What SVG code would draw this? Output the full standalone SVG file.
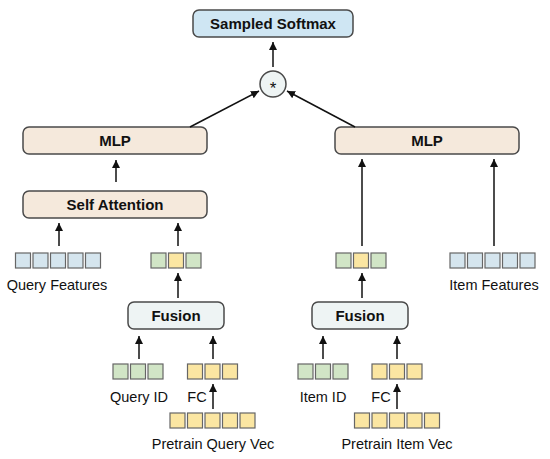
<svg xmlns="http://www.w3.org/2000/svg" width="550" height="459" viewBox="0 0 550 459">
<style>
.box{stroke:#4a4a4a;stroke-width:1.5}
.sm{fill:#cfe6f3}
.mlp{fill:#f5e9dc}
.fus{fill:#eef4f4}
.t{font-family:"Liberation Sans",Arial,sans-serif;font-weight:bold;font-size:15px;fill:#111;text-anchor:middle}
.l{font-family:"Liberation Sans",Arial,sans-serif;font-size:14.5px;fill:#111;text-anchor:middle}
.sq{stroke:#666;stroke-width:1.2}
.b{fill:#d5e5ee}
.g{fill:#d1e5c6}
.y{fill:#fbe6a2}
.c line{stroke:#111;stroke-width:1.5;marker-end:url(#ah)}
</style>
<defs>
<marker id="ah" markerUnits="userSpaceOnUse" markerWidth="8" markerHeight="8" refX="8" refY="4" orient="auto">
<path d="M0,0 L8,4 L0,8 z" fill="#111"/>
</marker>
<g id="sq5b">
<rect class="sq b" x="0" y="0" width="15" height="15"/>
<rect class="sq b" x="17.5" y="0" width="15" height="15"/>
<rect class="sq b" x="35" y="0" width="15" height="15"/>
<rect class="sq b" x="52.5" y="0" width="15" height="15"/>
<rect class="sq b" x="70" y="0" width="15" height="15"/>
</g>
<g id="sq5y">
<rect class="sq y" x="0" y="0" width="15" height="15"/>
<rect class="sq y" x="17.5" y="0" width="15" height="15"/>
<rect class="sq y" x="35" y="0" width="15" height="15"/>
<rect class="sq y" x="52.5" y="0" width="15" height="15"/>
<rect class="sq y" x="70" y="0" width="15" height="15"/>
</g>
<g id="sq3g">
<rect class="sq g" x="0" y="0" width="15" height="15"/>
<rect class="sq g" x="17.5" y="0" width="15" height="15"/>
<rect class="sq g" x="35" y="0" width="15" height="15"/>
</g>
<g id="sq3y">
<rect class="sq y" x="0" y="0" width="15" height="15"/>
<rect class="sq y" x="17.5" y="0" width="15" height="15"/>
<rect class="sq y" x="35" y="0" width="15" height="15"/>
</g>
<g id="sqgyg">
<rect class="sq g" x="0" y="0" width="15" height="15"/>
<rect class="sq y" x="17.5" y="0" width="15" height="15"/>
<rect class="sq g" x="35" y="0" width="15" height="15"/>
</g>
</defs>
<rect width="550" height="459" fill="#fff"/>

<g id="softmax"><rect class="box sm" x="193" y="10" width="160" height="27" rx="6"/><text class="t" x="273" y="29">Sampled Softmax</text></g>
<g id="product"><circle class="box fus" cx="273" cy="84" r="13"/><text class="l" x="273" y="94" style="font-size:17px">*</text></g>
<g id="mlp-left"><rect class="box mlp" x="23" y="127" width="184" height="27" rx="6"/><text class="t" x="115" y="146">MLP</text></g>
<g id="mlp-right"><rect class="box mlp" x="335" y="127" width="184" height="27" rx="6"/><text class="t" x="427" y="146">MLP</text></g>
<g id="self-attention"><rect class="box mlp" x="23" y="191" width="184" height="27" rx="6"/><text class="t" x="115" y="210">Self Attention</text></g>

<g id="query-features"><use href="#sq5b" x="15.5" y="253"/><text class="l" x="57" y="290">Query Features</text></g>
<g id="query-emb"><use href="#sqgyg" x="151" y="253"/></g>
<g id="item-emb"><use href="#sqgyg" x="336" y="253"/></g>
<g id="item-features"><use href="#sq5b" x="450" y="253"/><text class="l" x="494" y="290">Item Features</text></g>

<g id="fusion-left"><rect class="box fus" x="128" y="302" width="96" height="27" rx="6"/><text class="t" x="176" y="321">Fusion</text></g>
<g id="fusion-right"><rect class="box fus" x="312" y="302" width="96" height="27" rx="6"/><text class="t" x="360" y="321">Fusion</text></g>

<g id="query-id"><use href="#sq3g" x="113" y="364"/><text class="l" x="139" y="402">Query ID</text></g>
<g id="query-fc"><use href="#sq3y" x="187.5" y="364"/><text class="l" x="197" y="402">FC</text></g>
<g id="pretrain-query"><use href="#sq5y" x="170" y="413"/><text class="l" x="213" y="449">Pretrain Query Vec</text></g>

<g id="item-id"><use href="#sq3g" x="298" y="364"/><text class="l" x="323" y="402">Item ID</text></g>
<g id="item-fc"><use href="#sq3y" x="372" y="364"/><text class="l" x="381" y="402">FC</text></g>
<g id="pretrain-item"><use href="#sq5y" x="354.5" y="413"/><text class="l" x="397" y="449">Pretrain Item Vec</text></g>

<g class="c" id="connectors">
<line x1="273" y1="67" x2="273" y2="42"/>
<line x1="190" y1="127" x2="259" y2="91"/>
<line x1="355" y1="127" x2="287" y2="91"/>
<line x1="116" y1="182" x2="116" y2="160"/>
<line x1="59" y1="246" x2="59" y2="223"/>
<line x1="178" y1="246" x2="178" y2="223"/>
<line x1="362" y1="246" x2="362" y2="159"/>
<line x1="494" y1="246" x2="494" y2="159"/>
<line x1="178" y1="298" x2="178" y2="273"/>
<line x1="362" y1="298" x2="362" y2="273"/>
<line x1="139" y1="359" x2="139" y2="336"/>
<line x1="213" y1="359" x2="213" y2="336"/>
<line x1="323" y1="359" x2="323" y2="336"/>
<line x1="397" y1="359" x2="397" y2="336"/>
<line x1="213" y1="409" x2="213" y2="384"/>
<line x1="397" y1="409" x2="397" y2="384"/>
</g>
</svg>
